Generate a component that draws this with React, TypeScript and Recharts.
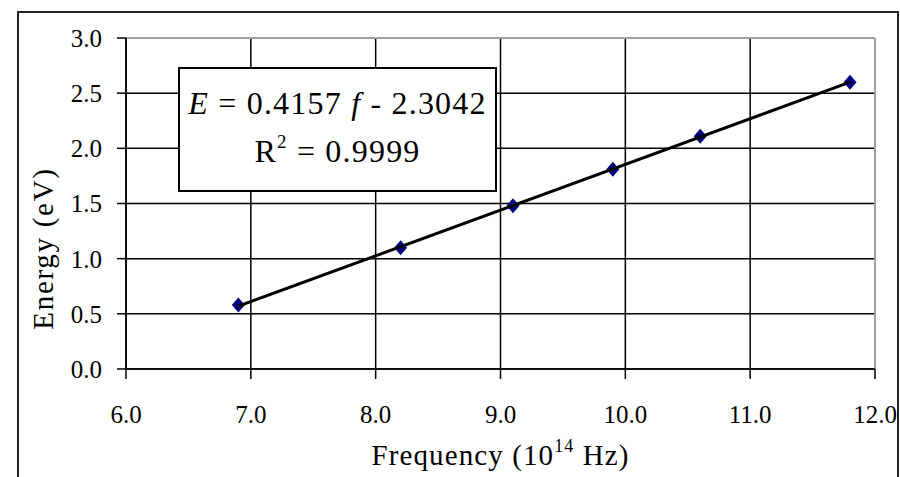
import React from 'react';
import {
  ScatterChart,
  Scatter,
  XAxis,
  YAxis,
  CartesianGrid,
  ReferenceLine,
} from 'recharts';

// measured points, frequency in 10^14 Hz, energy in eV
const frequency = [6.9, 8.2, 9.1, 9.9, 10.6, 11.8];
const energy = [0.58, 1.1, 1.48, 1.81, 2.11, 2.6];

// ends of the fitted line
const trendFrequency = [6.9, 11.8];
const trendEnergy = [0.57, 2.6];

const xTicks = [6, 7, 8, 9, 10, 11, 12];
const yTicks = [0, 0.5, 1, 1.5, 2, 2.5, 3];

const equationText = ['0.4157', '2.3042'];
const r2Text = '0.9999';

const points = frequency.map((f, i) => ({ f, E: energy[i] }));
const trend = trendFrequency.map((f, i) => ({ f, E: trendEnergy[i] }));

const FONT = '"Liberation Serif", "Times New Roman", serif';

const Diamond = (props: any) => {
  const { cx, cy } = props;
  if (cx == null || cy == null) return <g />;
  return (
    <polygon
      points={`${cx},${cy - 7.5} ${cx + 6.5},${cy} ${cx},${cy + 7.5} ${cx - 6.5},${cy}`}
      fill="#000080"
    />
  );
};

const NoShape = () => <g />;

const FreqLabel = (props: any) => {
  const vb = props.viewBox || { x: 126, y: 369, width: 749, height: 108 };
  const cx = vb.x + vb.width / 2;
  return (
    <text
      x={cx}
      y={vb.y + 96}
      textAnchor="middle"
      fontFamily={FONT}
      fontSize={29}
      letterSpacing={1.1}
      fill="#000"
    >
      <tspan>Frequency (10</tspan>
      <tspan dy={-13} fontSize={18}>14</tspan>
      <tspan dy={13}> Hz)</tspan>
    </text>
  );
};

const EnergyLabel = (props: any) => {
  const vb = props.viewBox || { x: 0, y: 38, width: 126, height: 331 };
  const x = 53;
  const y = vb.y + vb.height / 2 + 45;
  return (
    <text
      x={x}
      y={y}
      transform={`rotate(-90, ${x}, ${y})`}
      textAnchor="middle"
      fontFamily={FONT}
      fontSize={29}
      letterSpacing={1.7}
      fill="#000"
    >
      Energy (eV)
    </text>
  );
};

export default function App() {
  return (
    <div
      style={{
        position: 'absolute',
        left: 0,
        top: 0,
        width: 900,
        height: 477,
        overflow: 'hidden',
        background: '#fff',
      }}
    >
      <div
        style={{
          position: 'absolute',
          left: 17,
          top: 11,
          width: 878,
          height: 520,
          border: '2px solid #222',
        }}
      />
      <div style={{ position: 'absolute', left: 0, top: 0 }}>
        <ScatterChart
          width={900}
          height={477}
          margin={{ top: 38, right: 25, bottom: 0, left: 0 }}
        >
          <CartesianGrid stroke="#000" strokeWidth={1.5} />
          <XAxis
            type="number"
            dataKey="f"
            domain={[6, 12]}
            ticks={xTicks}
            tickFormatter={(v: number) => v.toFixed(1)}
            height={108}
            tickSize={10}
            tickMargin={26}
            axisLine={{ stroke: '#000', strokeWidth: 1.5 }}
            tickLine={{ stroke: '#000', strokeWidth: 1.5 }}
            tick={{ fill: '#000', fontFamily: FONT, fontSize: 25 }}
            label={<FreqLabel />}
            allowDataOverflow
          />
          <YAxis
            type="number"
            dataKey="E"
            domain={[0, 3]}
            ticks={yTicks}
            tickFormatter={(v: number) => v.toFixed(1)}
            width={126}
            tickSize={9}
            tickMargin={15}
            axisLine={{ stroke: '#000', strokeWidth: 1.5 }}
            tickLine={{ stroke: '#000', strokeWidth: 1.5 }}
            tick={{ fill: '#000', fontFamily: FONT, fontSize: 25 }}
            label={<EnergyLabel />}
            allowDataOverflow
          />
          <ReferenceLine y={3} stroke="#a0a0a0" strokeWidth={2} />
          <ReferenceLine x={12} stroke="#a0a0a0" strokeWidth={2} />
          <Scatter data={points} shape={Diamond} isAnimationActive={false} />
          <Scatter
            data={trend}
            shape={NoShape}
            line={{ stroke: '#000', strokeWidth: 3 }}
            isAnimationActive={false}
          />
        </ScatterChart>
      </div>
      <div
        style={{
          position: 'absolute',
          left: 178,
          top: 67,
          width: 315,
          height: 111,
          border: '2px solid #000',
          background: '#fff',
          fontFamily: FONT,
          color: '#000',
          textAlign: 'center',
          letterSpacing: 1.2,
          fontSize: 32,
          lineHeight: '48px',
          paddingTop: 10,
          boxSizing: 'content-box',
          whiteSpace: 'nowrap',
        }}
      >
        <div style={{ height: 48 }}>
          <i>E</i> = {equationText[0]} <i>f</i> - {equationText[1]}
        </div>
        <div style={{ height: 48 }}>
          R<sup style={{ fontSize: 19, verticalAlign: 'top', lineHeight: '30px' }}>2</sup> = {r2Text}
        </div>
      </div>
    </div>
  );
}
